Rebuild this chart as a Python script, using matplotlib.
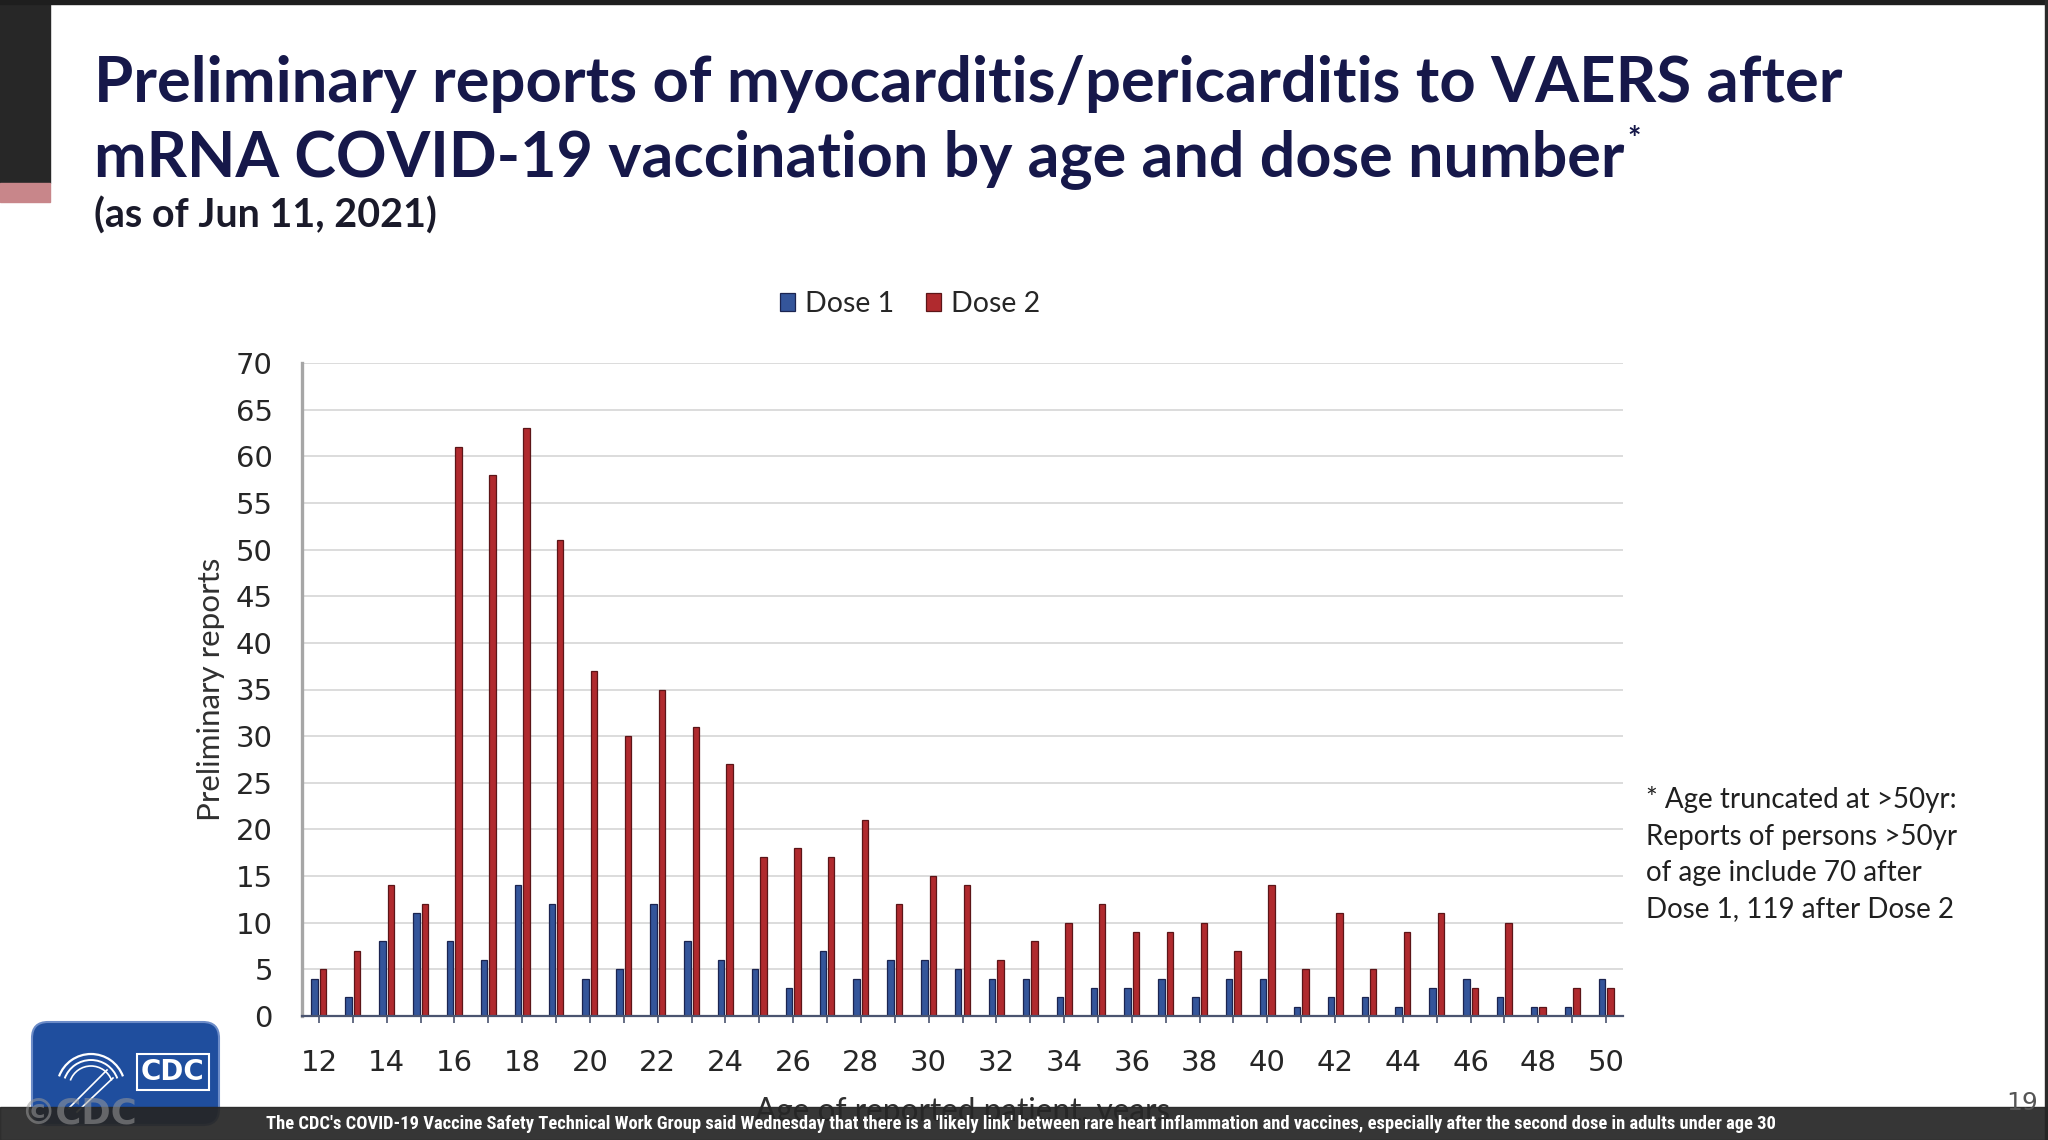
import matplotlib
matplotlib.use('Agg')
import matplotlib.pyplot as plt
from matplotlib.patches import Rectangle, FancyBboxPatch, Arc
from matplotlib import font_manager
import numpy as np

W, H, DPI = 2048, 1140, 100

# ---------------- data ----------------
ages = list(range(12, 51))
dose1 = [4, 2, 8, 11, 8, 6, 14, 12, 4, 5,
         12, 8, 6, 5, 3, 7, 4, 6, 6, 5,
         4, 4, 2, 3, 3, 4, 2, 4, 4, 1,
         2, 2, 1, 3, 4, 2, 1, 1, 4]
dose2 = [5, 7, 14, 12, 61, 58, 63, 51, 37, 30,
         35, 31, 27, 17, 18, 17, 21, 12, 15, 14,
         6, 8, 10, 12, 9, 9, 10, 7, 14, 5,
         11, 5, 9, 11, 3, 10, 1, 3, 3]
series_names = ["Dose 1", "Dose 2"]
y_ticks = list(range(0, 75, 5))
x_tick_labels = [str(a) if a % 2 == 0 else "" for a in ages]

title_line1 = "Preliminary reports of myocarditis/pericarditis to VAERS after"
title_line2 = "mRNA COVID-19 vaccination by age and dose number"
subtitle = "(as of Jun 11, 2021)"
footnote = ["* Age truncated at >50yr:", "Reports of persons >50yr",
            "of age include 70 after", "Dose 1, 119 after Dose 2"]
caption = ("The CDC's COVID-19 Vaccine Safety Technical Work Group said Wednesday that there is a "
           "'likely link' between rare heart inflammation and vaccines, especially after the second dose "
           "in adults under age 30")

# ---------------- helpers ----------------
names = {f.name for f in font_manager.fontManager.ttflist}
cap_family = next((n for n in ["Liberation Sans Narrow", "Roboto Condensed", "Roboto"] if n in names), "DejaVu Sans")

fig = plt.figure(figsize=(W / DPI, H / DPI), dpi=DPI)
fig.patch.set_facecolor("white")
renderer = fig.canvas.get_renderer()


def fx(x):
    return x / W


def fy(y):
    return 1 - y / H


def fit(t, target, vertical=False):
    bb = t.get_window_extent(renderer)
    cur = bb.height if vertical else bb.width
    t.set_fontsize(t.get_fontsize() * target / cur)


BLUE, BLUE_E = "#34559A", "#1B2450"
RED, RED_E = "#B02A2E", "#5C1518"
TXT = "#262626"
NAVY = "#16184A"

# ---------------- axes ----------------
ax = fig.add_axes([fx(302), fy(1016), (1623 - 302) / W, (1016 - 363) / H])
x = np.arange(len(ages))
b1 = ax.bar(x - 0.125, dose1, width=0.19, color=BLUE, edgecolor=BLUE_E, linewidth=0.9, zorder=3)
b2 = ax.bar(x + 0.125, dose2, width=0.19, color=RED, edgecolor=RED_E, linewidth=0.9, zorder=3)
ax.set_xlim(-0.5, len(ages) - 0.5)
ax.set_ylim(0, 70)
ax.set_yticks(y_ticks)
ax.set_xticks(x)
ax.set_xticklabels(x_tick_labels)
ax.yaxis.grid(True, color="#D9D9D9", linewidth=1.3)
ax.set_axisbelow(True)
for s in ["top", "right"]:
    ax.spines[s].set_visible(False)
ax.spines["left"].set_color("#A6A6A6")
ax.spines["left"].set_linewidth(2.4)
ax.spines["bottom"].set_color("#4A5470")
ax.spines["bottom"].set_linewidth(1.6)
ax.spines["bottom"].set_zorder(4)
ax.tick_params(axis="y", length=0, pad=21, labelsize=21, labelcolor=TXT)
ax.tick_params(axis="x", length=5, width=1.2, color="#4A5470", pad=19, labelsize=21,
               labelcolor=TXT, direction="out")

yl = ax.set_ylabel("Preliminary reports", fontfamily="Lato", fontsize=20, color="#303030")
ax.yaxis.set_label_coords((211 - 302) / 1321, 0.5)
yl.set_verticalalignment("center")
fit(yl, 264, vertical=True)

xl = ax.set_xlabel("Age of reported patient, years", fontfamily="Lato", fontsize=20, color="#303030")
ax.xaxis.set_label_coords(0.5, (1016 - 1112) / 653)
xl.set_verticalalignment("center")
fit(xl, 416)

leg = ax.legend([b1, b2], series_names, loc="center", bbox_to_anchor=(fx(910), fy(304)),
                bbox_transform=fig.transFigure, ncol=2, frameon=False,
                prop={"family": "Lato", "size": 20.5}, handlelength=0.55, handleheight=0.55,
                handletextpad=0.35, columnspacing=1.1, labelcolor=TXT)

# ---------------- titles ----------------
t1 = fig.text(fx(94), fy(102), title_line1, fontfamily="Lato", fontweight="bold",
              fontsize=46, color=NAVY, va="baseline", ha="left")
fit(t1, 1751)
t2 = fig.text(fx(94), fy(176), title_line2, fontfamily="Lato", fontweight="bold",
              fontsize=t1.get_fontsize(), color=NAVY, va="baseline", ha="left")
fit(t2, 1528)
bb2 = t2.get_window_extent(renderer)
fig.text(bb2.x1 / W + fx(3), fy(150), "*", fontfamily="Lato", fontweight="bold",
         fontsize=t1.get_fontsize() * 0.5, color=NAVY, va="baseline", ha="left")
ts = fig.text(fx(94), fy(228), subtitle, fontfamily="Lato", fontweight="bold",
              fontsize=26, color="#1a1a2a", va="baseline", ha="left")
fit(ts, 343)

# footnote
fn_base = [808, 845, 881, 917]
fts = []
for line, yb in zip(footnote, fn_base):
    fts.append(fig.text(fx(1646), fy(yb), line, fontfamily="Lato", fontsize=19,
                        color="#202020", va="baseline", ha="left"))
fit(fts[0], 311)
for t in fts[1:]:
    t.set_fontsize(fts[0].get_fontsize())

# ---------------- slide decorations ----------------
fig.add_artist(Rectangle((0, fy(183)), fx(50), 183 / H, transform=fig.transFigure,
                         color="#272727", zorder=5))
fig.add_artist(Rectangle((0, fy(202)), fx(50), 19 / H, transform=fig.transFigure,
                         color="#C8868A", zorder=5))
fig.add_artist(Rectangle((0, fy(4)), 1, 4 / H, transform=fig.transFigure,
                         color="#1E1E1E", zorder=5))
fig.add_artist(Rectangle((fx(2045), 0), 3 / W, 1, transform=fig.transFigure,
                         color="#2A2A2A", zorder=5))

# CDC logo
axl = fig.add_axes([fx(29), fy(1128), 193 / W, 109 / H], zorder=6)
axl.set_xlim(0, 193)
axl.set_ylim(0, 109)
axl.axis("off")
axl.add_patch(FancyBboxPatch((3, 3), 187, 103, boxstyle="round,pad=0,rounding_size=16",
                             fc="#1F4E9E", ec="#6C8CC8", lw=1.5))
axl.add_patch(Rectangle((108, 38), 72, 36, fill=False, ec="white", lw=1.5))
axl.text(144, 56, "CDC", color="white", fontsize=20, fontweight="bold",
         fontfamily="DejaVu Sans", ha="center", va="center")
for r, lw in [(34, 1.6), (28, 1.4), (22, 1.2)]:
    axl.add_patch(Arc((62, 40), r * 2, r * 2, theta1=20, theta2=160, color="white", lw=lw))
axl.plot([40, 78], [20, 58], color="white", lw=1.2)
axl.plot([48, 84], [16, 50], color="white", lw=1.2)

# caption bar
fig.add_artist(Rectangle((0, 0), 1, (1140 - 1107) / H, transform=fig.transFigure,
                         color="#262626", alpha=0.93, zorder=20))
tc = fig.text(fx(1021), fy(1124), caption, fontfamily=cap_family, fontweight="bold",
              fontsize=14, color="white", ha="center", va="center", zorder=22)
fit(tc, 1525)
wm = fig.text(fx(20), fy(1114), "\u00a9CDC", fontfamily="DejaVu Sans", fontweight="bold",
              fontsize=24, color="#9a9a9a", alpha=0.55, ha="left", va="center", zorder=21)
fit(wm, 117)
fig.text(fx(2022), fy(1103), "19", fontfamily="DejaVu Sans", fontsize=18, color="#555555",
         ha="center", va="center", zorder=22)

fig.savefig("out.png", dpi=DPI, facecolor="white")
